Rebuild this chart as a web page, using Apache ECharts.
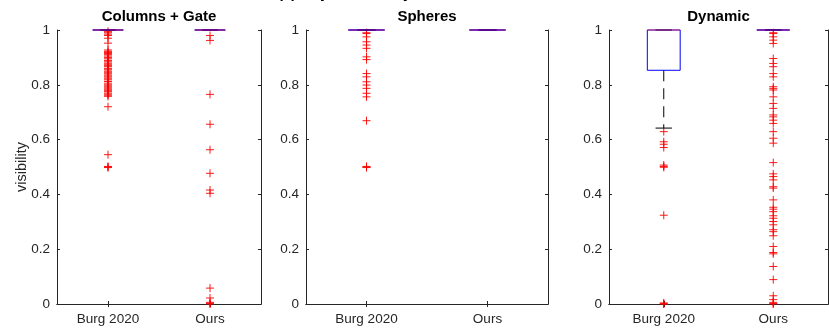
<!DOCTYPE html>
<html>
<head>
<meta charset="utf-8">
<script src="https://cdn.jsdelivr.net/npm/echarts@6/dist/echarts.min.js"></script>
<style>
html,body{margin:0;padding:0;background:#fff;}
#chart{width:829px;height:332px;}
</style>
</head>
<body>
<div id="chart"></div>
<script>
const categories = ['Burg 2020', 'Ours'];
const panelTitles = ['Columns + Gate', 'Spheres', 'Dynamic'];
const yAxisName = 'visibility';
const supTitle = '(a) Object visibility';

// box stats: [lower whisker, q1, median, q3, upper whisker]
const colGateBurgBox = [1, 1, 1, 1, 1];
const colGateOursBox = [1, 1, 1, 1, 1];
const spheresBurgBox = [1, 1, 1, 1, 1];
const spheresOursBox = [1, 1, 1, 1, 1];
const dynamicBurgBox = [0.642, 0.853, 1, 1, 1];
const dynamicOursBox = [1, 1, 1, 1, 1];

// outliers
const colGateBurgOut = [0.995, 0.99, 0.985, 0.98, 0.97, 0.952, 0.927, 0.922, 0.918, 0.914, 0.91, 0.905, 0.9, 0.895,
  0.889, 0.884, 0.879, 0.875, 0.87, 0.866, 0.86, 0.855, 0.85, 0.846, 0.842, 0.836, 0.832, 0.828, 0.822, 0.818,
  0.812, 0.806, 0.8, 0.796, 0.792, 0.788, 0.784, 0.78, 0.776, 0.77, 0.766, 0.762, 0.758, 0.72, 0.545, 0.502, 0.5, 0.498];
const colGateOursOut = [0.98, 0.962, 0.765, 0.656, 0.563, 0.477, 0.416, 0.404, 0.058, 0.022, 0.006, 0.002, 0];
const spheresBurgOut = [0.99, 0.987, 0.975, 0.957, 0.945, 0.933, 0.902, 0.892, 0.841, 0.829, 0.811, 0.799, 0.787,
  0.769, 0.756, 0.669, 0.502, 0.5, 0.498];
const spheresOursOut = [];
const dynamicBurgOut = [0.629, 0.592, 0.583, 0.571, 0.507, 0.502, 0.499, 0.324, 0.004, 0.001, 0];
const dynamicOursOut = [0.99, 0.987, 0.975, 0.963, 0.951, 0.896, 0.878, 0.866, 0.841, 0.829, 0.793, 0.787, 0.781,
  0.756, 0.732, 0.714, 0.69, 0.683, 0.671, 0.659, 0.629, 0.605, 0.587, 0.516, 0.475, 0.465, 0.453, 0.428, 0.423,
  0.38, 0.353, 0.346, 0.337, 0.322, 0.313, 0.301, 0.289, 0.271, 0.264, 0.249, 0.21, 0.188, 0.183, 0.137, 0.089,
  0.03, 0.016, 0.006, 0.002, 0];

const panels = [
  { boxes: [colGateBurgBox, colGateOursBox], outs: [colGateBurgOut, colGateOursOut] },
  { boxes: [spheresBurgBox, spheresOursBox], outs: [spheresBurgOut, spheresOursOut] },
  { boxes: [dynamicBurgBox, dynamicOursBox], outs: [dynamicBurgOut, dynamicOursOut] }
];

const gridRects = [
  { left: 57, width: 204 },
  { left: 306, width: 242 },
  { left: 609, width: 219 }
];
const gridTop = 30, gridHeight = 274;
const axisColor = '#262626';
const fontFam = '"Liberation Sans", Arial, Helvetica, sans-serif';

const grids = [], xAxes = [], yAxes = [], series = [], graphics = [];

function boxRender(params, api) {
  const i = api.value(0);
  const lo = api.value(1), q1 = api.value(2), med = api.value(3), q3 = api.value(4), hi = api.value(5);
  const xc = api.coord([i, 0])[0];
  const band = api.size([1, 0])[0];
  const w = band * 0.3;
  const y = v => api.coord([i, v])[1];
  const children = [];
  const dashStyle = { stroke: '#000', lineWidth: 1, lineDash: [11, 7] };
  if (hi > q3) children.push({ type: 'line', shape: { x1: xc, y1: y(q3), x2: xc, y2: y(hi) }, style: dashStyle });
  if (lo < q1) children.push({ type: 'line', shape: { x1: xc, y1: y(q1), x2: xc, y2: y(lo) }, style: dashStyle });
  children.push({ type: 'line', shape: { x1: xc - w / 4, y1: y(hi), x2: xc + w / 4, y2: y(hi) }, style: { stroke: '#000', lineWidth: 1 } });
  children.push({ type: 'line', shape: { x1: xc - w / 4, y1: y(lo), x2: xc + w / 4, y2: y(lo) }, style: { stroke: '#000', lineWidth: 1 } });
  children.push({ type: 'rect', shape: { x: xc - w / 2, y: y(q3), width: w, height: Math.max(y(q1) - y(q3), 0.01) },
    style: { fill: 'none', stroke: '#0000ff', lineWidth: 1 } });
  children.push({ type: 'line', shape: { x1: xc - w / 2, y1: y(med), x2: xc + w / 2, y2: y(med) },
    style: { stroke: '#ff0000', lineWidth: 1.2, opacity: 0.6 } });
  return { type: 'group', children };
}

function plusRender(params, api) {
  const i = api.value(0);
  const p = api.coord([i, api.value(1)]);
  const h = 4;
  return {
    type: 'group',
    children: [
      { type: 'line', shape: { x1: p[0] - h, y1: p[1], x2: p[0] + h, y2: p[1] }, style: { stroke: '#ff0000', lineWidth: 1, opacity: 0.9 } },
      { type: 'line', shape: { x1: p[0], y1: p[1] - h, x2: p[0], y2: p[1] + h }, style: { stroke: '#ff0000', lineWidth: 1, opacity: 0.9 } }
    ]
  };
}

panels.forEach((pan, g) => {
  const r = gridRects[g];
  grids.push({ left: r.left, width: r.width, top: gridTop, height: gridHeight, containLabel: false });
  const xb = xAxes.length;
  xAxes.push({
    type: 'category', gridIndex: g, data: categories, position: 'bottom', boundaryGap: true,
    axisLine: { show: true, lineStyle: { color: axisColor, width: 1 } },
    axisTick: { show: true, inside: true, alignWithLabel: true, length: 3, lineStyle: { color: axisColor } },
    axisLabel: { color: axisColor, fontSize: 13.5, fontFamily: fontFam, margin: 8 },
    splitLine: { show: false }
  });
  xAxes.push({
    type: 'category', gridIndex: g, data: categories, position: 'top', boundaryGap: true,
    axisLine: { show: true, lineStyle: { color: axisColor, width: 1 } },
    axisTick: { show: true, inside: true, alignWithLabel: true, length: 3, lineStyle: { color: axisColor } },
    axisLabel: { show: false }, splitLine: { show: false }
  });
  const yb = yAxes.length;
  yAxes.push({
    type: 'value', gridIndex: g, min: 0, max: 1, interval: 0.2, position: 'left',
    axisLine: { show: true, lineStyle: { color: axisColor, width: 1 } },
    axisTick: { show: true, inside: true, length: 3, lineStyle: { color: axisColor } },
    axisLabel: { color: axisColor, fontSize: 13.5, fontFamily: fontFam, margin: 7 },
    splitLine: { show: false }
  });
  yAxes.push({
    type: 'value', gridIndex: g, min: 0, max: 1, interval: 0.2, position: 'right',
    axisLine: { show: true, lineStyle: { color: axisColor, width: 1 } },
    axisTick: { show: true, inside: true, length: 3, lineStyle: { color: axisColor } },
    axisLabel: { show: false }, splitLine: { show: false }
  });
  const outData = [];
  pan.outs.forEach((arr, i) => arr.forEach(v => outData.push([i, v])));
  series.push({
    type: 'custom', xAxisIndex: xb, yAxisIndex: yb, renderItem: plusRender, data: outData, clip: false, silent: true,
    encode: { x: 0, y: 1 }, z: 2
  });
  series.push({
    type: 'custom', xAxisIndex: xb, yAxisIndex: yb, renderItem: boxRender,
    data: pan.boxes.map((b, i) => [i].concat(b)), clip: false, silent: true,
    encode: { x: 0, y: [1, 2, 3, 4, 5] }, z: 3
  });
  graphics.push({
    type: 'text', x: r.left + r.width / 2, y: 17,
    style: { text: panelTitles[g], font: 'bold 15px ' + fontFam, fill: '#000', textAlign: 'center', textVerticalAlign: 'middle' }
  });
});

graphics.push({
  type: 'text', x: 22, y: gridTop + gridHeight / 2, rotation: Math.PI / 2,
  style: { text: yAxisName, font: '14.5px ' + fontFam, fill: axisColor, textAlign: 'center', textVerticalAlign: 'middle' }
});
graphics.push({
  type: 'text', x: 278, y: -6,
  style: { text: supTitle, font: 'bold 15px ' + fontFam, fill: '#000', textAlign: 'left', textVerticalAlign: 'middle' }
});

const chart = echarts.init(document.getElementById('chart'), null, { renderer: 'canvas' });
chart.setOption({
  animation: false,
  backgroundColor: '#fff',
  grid: grids,
  xAxis: xAxes,
  yAxis: yAxes,
  series: series,
  graphic: graphics
});
</script>
</body>
</html>
